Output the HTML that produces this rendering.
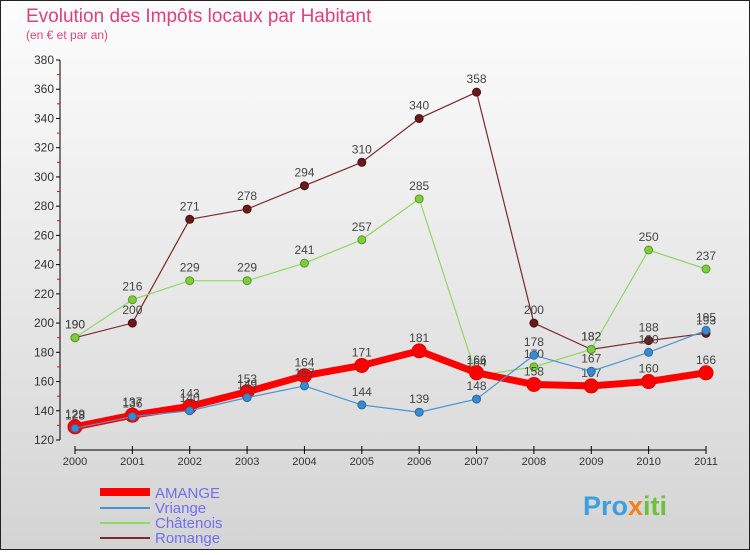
<!DOCTYPE html>
<html><head><meta charset="utf-8"><style>
body{margin:0;width:750px;height:550px;overflow:hidden;font-family:"Liberation Sans",sans-serif}
svg text{font-family:"Liberation Sans",sans-serif}
</style></head><body>
<svg width="750" height="550" id="c">
<defs><linearGradient id="bg" x1="0" y1="0" x2="0" y2="1"><stop offset="0" stop-color="#fdfdfd"/><stop offset="1" stop-color="#d4d4d4"/></linearGradient></defs>
<rect x="0.5" y="0.5" width="749" height="549" fill="url(#bg)" stroke="#222"/>
<text x="26" y="22" font-size="19" fill="#e0407a">Evolution des Impôts locaux par Habitant</text>
<text x="26" y="39" font-size="12" fill="#e0407a">(en € et par an)</text>
<g id="axes"></g><g id="series"></g>
<g>
<line x1="100" y1="492" x2="150" y2="492" stroke="#f00" stroke-width="8"/>
<text x="155" y="498" font-size="15" fill="#6f6ff0">AMANGE</text>
<line x1="100" y1="508" x2="150" y2="508" stroke="#4b94d0" stroke-width="2"/>
<text x="155" y="513" font-size="15" fill="#6f6ff0">Vriange</text>
<line x1="100" y1="523" x2="150" y2="523" stroke="#8ed864" stroke-width="2"/>
<text x="155" y="528" font-size="15" fill="#6f6ff0">Châtenois</text>
<line x1="100" y1="538" x2="150" y2="538" stroke="#7a2a2a" stroke-width="2"/>
<text x="155" y="543" font-size="15" fill="#6f6ff0">Romange</text>
</g>
<text x="583" y="515" font-size="27" font-weight="bold" fill="#3aa0e0">Pro<tspan fill="#f08020">x</tspan><tspan fill="#70c040">iti</tspan></text>
</svg>
<script>
const years=[2000,2001,2002,2003,2004,2005,2006,2007,2008,2009,2010,2011];
const yTicks=[120,140,160,180,200,220,240,260,280,300,320,340,360,380];
const amange=[129,137,143,153,164,171,181,166,158,157,160,166];
const vriange=[128,136,140,149,157,144,139,148,178,167,180,195];
const chatenois=[190,216,229,229,241,257,285,164,170,182,250,237];
const romange=[190,200,271,278,294,310,340,358,200,182,188,193];
const NS="http://www.w3.org/2000/svg";
function X(i){return 75+i*(706-75)/(years.length-1);}
function Y(v){return 440-(v-120)*(380/260);}
function mk(t,a,p){const e=document.createElementNS(NS,t);for(const k in a)e.setAttribute(k,a[k]);p.appendChild(e);return e;}
const ax=document.getElementById('axes');
const yAxis=mk('line',{x1:60,y1:60,x2:60,y2:440,stroke:'#000'},ax);


const xAxis=mk('line',{x1:75,y1:450,x2:706,y2:450,stroke:'#000'},ax);


yTicks.forEach(v=>{
 mk('line',{x1:56,y1:Y(v),x2:60,y2:Y(v),stroke:'#000'},ax);
 if(v<380) mk('line',{x1:57,y1:Y(v+10),x2:60,y2:Y(v+10),stroke:'#f00'},ax);
 const t=mk('text',{x:54,y:Y(v)+4,'font-size':12,'text-anchor':'end',fill:'#333'},ax);
 t.textContent=v;
 
 
});
years.forEach((yr,i)=>{
 mk('line',{x1:X(i),y1:446,x2:X(i),y2:454,stroke:'#000'},ax);
 const t=mk('text',{x:X(i),y:465,'font-size':11,'text-anchor':'middle',fill:'#333'},ax);
 t.textContent=yr;
 
 
});
const sg=document.getElementById('series');
function series(name,data,color,w,r,dot,stroke){
 const g=mk('g',{},sg);
 
 
 mk('polyline',{points:data.map((v,i)=>X(i)+','+Y(v)).join(' '),fill:'none',stroke:color,'stroke-width':w,'stroke-linejoin':'round'},g);
 data.forEach((v,i)=>{
  const c=mk('circle',{cx:X(i),cy:Y(v),r:r,fill:dot,stroke:stroke,'stroke-width':1},g);
  
  
  const t=mk('text',{x:X(i),y:Y(v)-9,'font-size':12,'text-anchor':'middle',fill:'#444'},g);
  t.textContent=v;
  
  
 });
}
series('romange',romange,'#7a2a2a',1.2,4,'#6a1a1a','#4a1010');
series('chatenois',chatenois,'#8ed864',1.2,4,'#7ccc3c','#5a9a2a');
series('amange',amange,'#f00',7,7,'#f00','#d00');
series('vriange',vriange,'#4b94d0',1.2,4,'#3a8ad0','#2a6aa0');
</script>
</body></html>
